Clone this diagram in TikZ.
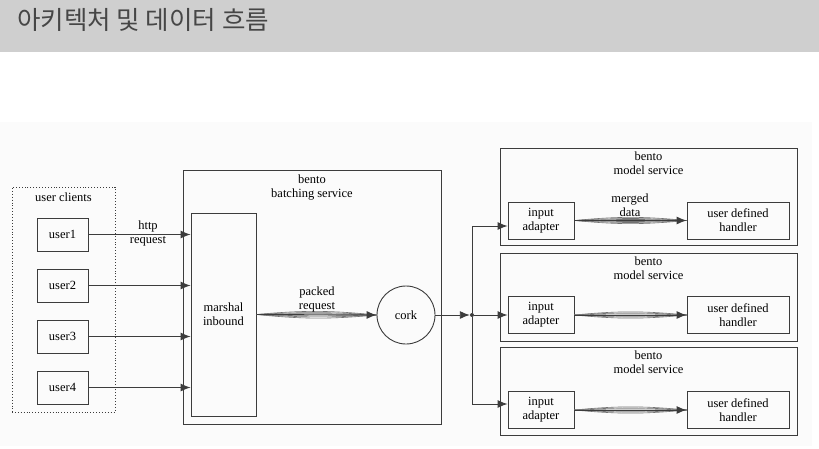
\documentclass[tikz,border=0pt]{standalone}
\usepackage{fontspec}
\setmainfont{Liberation Serif}
\newfontfamily\kofont{Noto Sans CJK KR}
\usetikzlibrary{positioning,arrows.meta}
\definecolor{headgray}{HTML}{CFCFCF}
\definecolor{titlegray}{HTML}{464646}
\definecolor{linegray}{HTML}{3C3C3C}
\newcommand{\diafont}{\fontsize{12.5}{14}\selectfont}
\begin{document}
\begin{tikzpicture}[x=1pt,y=-1pt,
  box/.style={draw=linegray, line width=0.9pt, inner sep=0pt, align=center, font=\diafont},
  lbl/.style={inner sep=0pt, align=center, font=\diafont},
  flow/.style={draw=linegray, line width=0.9pt, -{Latex[length=10pt,width=8pt]}},
  bundle/.style={draw=black!55, line width=0.6pt}]
\useasboundingbox (0,0) rectangle (819,449);
% header band
\fill[headgray] (0,0) rectangle (819,52);
\node[anchor=west, inner sep=0pt, text=titlegray, font=\kofont\fontsize{25.5}{28}\selectfont] (title) at (17,20) {아키텍처 및 데이터 흐름};
\fill[black!1.5] (0,122) rectangle (812,446);
% clients
\node[box, dotted, minimum width=103pt, minimum height=225pt] (clients) at (63.5,299.5) {};
\node[lbl, below=6pt of clients.north] (clientslbl) {user clients};
\foreach \i/\y in {1/234.5,2/285.5,3/336.5,4/387.5}
  \node[box, minimum width=51pt, minimum height=33pt] (user\i) at (62.5,\y) {user\i};
% batching service
\node[box, minimum width=258pt, minimum height=254pt] (batch) at (312,297) {};
\node[lbl, below=5pt of batch.north] (batchlbl) {bento\\batching service};
\node[box, minimum width=65pt, minimum height=203pt] (marshal) at (223.5,314.5) {marshal\\inbound};
\node[box, circle, minimum size=58pt] (cork) at (406,315) {cork};
\node[circle, fill=linegray, inner sep=0pt, minimum size=4pt] (split) at (472,315) {};
% model services
\foreach \i/\y/\h in {1/197/97,2/297/88,3/391.5/88} {
  \node[box, minimum width=297pt, minimum height=\h pt] (model\i) at (648.5,\y) {};
  \node[lbl, below=4pt of model\i.north] (model\i lbl) {bento\\model service};
}
\foreach \i/\y in {1/220.5,2/315,3/410} {
  \node[box, minimum width=66pt, minimum height=37pt] (adapter\i) at (541,\y) {input\\adapter};
  \node[box, minimum width=102pt, minimum height=37pt] (handler\i) at (738,\y) {user defined\\handler};
}
% requests
\foreach \i in {1,...,4}
  \draw[flow] (user\i.east) -- (user\i.east -| marshal.west);
\node[lbl] (httplbl) at (148,233) {http\\request};
\foreach \b in {-5.5,-3.5,-1.8,1.8,3.5,5.5}
  \draw[bundle] (marshal.east) to[bend left=\b] (cork.west);
\draw[flow] (marshal.east) -- (cork.west);
\node[lbl, anchor=south] (packedlbl) at (317,312) {packed\\request};
% dispatch
\draw[flow] (cork.east) -- (split);
\draw[flow] (split) |- ([yshift=-5.5pt]adapter1.west);
\draw[flow] (split) -- (adapter2.west);
\draw[flow] (split) |- ([yshift=6pt]adapter3.west);
\foreach \i in {1,2,3} {
  \foreach \b in {-5.5,-3.5,-1.8,1.8,3.5,5.5}
    \draw[bundle] (adapter\i.east) to[bend left=\b] (handler\i.west);
  \draw[flow] (adapter\i.east) -- (handler\i.west);
}
\node[lbl, anchor=south] (mergedlbl) at (630,217) {merged\\data};
\end{tikzpicture}
\end{document}
